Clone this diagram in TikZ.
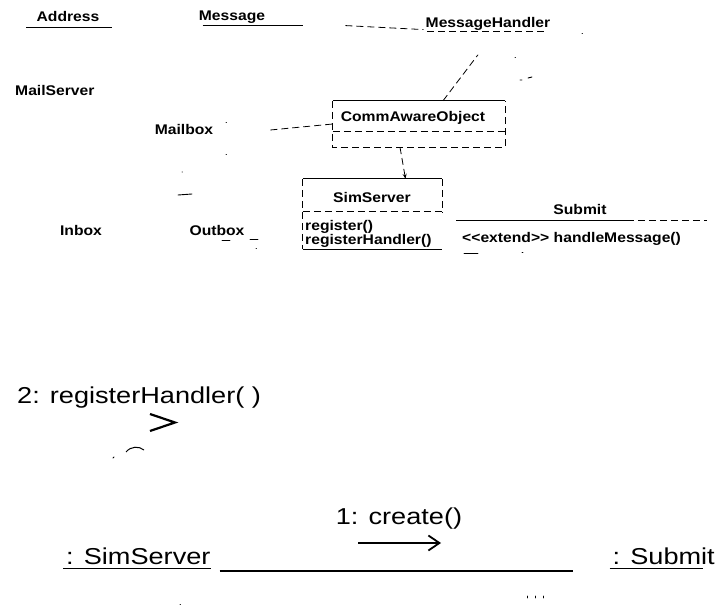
\documentclass[tikz,border=0pt]{standalone}
\usepackage{fontspec}
\usepackage{tikz}
\usetikzlibrary{arrows.meta,calc}
\newfontfamily\umlfont[FakeStretch=1.12]{Liberation Sans}
\newfontfamily\msgfont[FakeStretch=1.18]{Liberation Sans}
\tikzset{
  cls/.style={font=\umlfont\bfseries\fontsize{14}{13}\selectfont, inner sep=0pt},
  msgtxt/.style={font=\msgfont\fontsize{23}{26}\selectfont, inner sep=0pt},
  dsh/.style={line width=0.8pt, dash pattern=on 7pt off 4pt},
  uline/.style={line width=0.9pt},
  speck/.style={line width=0.9pt, line cap=round},
  link/.style={line width=1.4pt},
  msgarrow/.style={line width=1.8pt, -{Straight Barb[length=11pt,width=15pt,line width=1.8pt]}}
}
\begin{document}
\begin{tikzpicture}[x=1pt,y=-1pt]
		\useasboundingbox (0,0) rectangle (718,609);
		%% class diagram
		\node[cls] (addr) at (68,17) {Address};
		\node[cls] (msg) at (232,17) {Message};
		\node[cls] (msghandler) at (488,24) {MessageHandler};
		\node[cls, anchor=west] (mailserver) at (15,91) {MailServer};
		\node[cls] (mailbox) at (184,130) {Mailbox};
		\node[cls] (inbox) at (81,230) {Inbox};
		\node[cls] (outbox) at (217,230) {Outbox};
		\draw[uline] ($(addr.base west)+(-10,5)$) -- ($(addr.base east)+(12,5)$);
		\draw[uline] ($(msg.base west)+(4,5)$) -- ($(msg.base east)+(38,5)$);
		\draw[dsh] ($(msghandler.base west)+(-80,-2)$) -- ($(msghandler.base west)+(-2,2)$);
		\draw[dsh] ($(msghandler.base west)+(2,4)$) -- ($(msghandler.base east)+(-4,4)$);
		% CommAwareObject
		\node[minimum width=172pt, minimum height=46pt, inner sep=0pt] (caobox) at (419,124) {};
		\node[cls] (cao) at (413,118) {CommAwareObject};
		\draw[uline] (caobox.north west) -- (caobox.north east);
		\draw[dsh] (caobox.north west) -- (caobox.south west) -- (caobox.south east) -- (caobox.north east);
		\draw[dsh] ($(caobox.north west)+(0,31)$) -- ($(caobox.north east)+(0,31)$);
		% SimServer
		\node[minimum width=139pt, minimum height=70pt, inner sep=0pt] (simbox) at (372.5,214) {};
		\node[cls] (simsrv) at (372,197) {SimServer};
		\node[cls, anchor=base west] (reg) at (305,230.5) {register()};
		\node[cls, anchor=base west] (reghandler) at (305,245) {registerHandler()};
		\draw[uline] (simbox.north west) -- (simbox.north east);
		\draw[dsh] (simbox.north west) -- (simbox.south west);
		\draw[uline] (simbox.south west) -- (simbox.south east);
		\draw[dsh] (simbox.north east) -- ($(simbox.north east)+(0,34)$);
		\draw[dsh] ($(simbox.north west)+(0,33)$) -- ($(simbox.north east)+(0,33)$);
		% Submit
		\node[cls] (submit) at (580,209) {Submit};
		\node[cls, anchor=base west] (extend) at (462,243) {<<extend>> handleMessage()};
		\draw[uline] ($(submit.base west)+(-97,6)$) -- ($(submit.base east)+(20,6)$);
		\draw[dsh] ($(submit.base east)+(20,6)$) -- ($(submit.base east)+(100,6)$);
		% connectors
		\draw[dsh] ([xshift=57pt]mailbox.east) -- (caobox.west);
		\draw[dsh] ([xshift=24pt]caobox.north) -- ([xshift=-10pt,yshift=-24pt]msghandler.south);
		\draw[dsh, -{Stealth[length=5pt,width=4pt]}] ([xshift=-19pt]caobox.south) -- ([xshift=33pt]simbox.north);
		% scan specks
		\draw[speck] (582,33) -- (582.5,33);
		\draw[speck] (515,57) -- (515.5,57);
		\draw[speck] (520,80) -- (522,80) (528,78) -- (532,77);
		\draw[speck] (226,122) -- (226.5,122) (226,154) -- (226.5,154);
		\draw[speck] (182,172) -- (182.5,172) (178,195) -- (192,194);
		\draw[speck] (222,240) -- (230,240) (250,239) -- (258,239) (256,248) -- (256.5,248);
		\draw[speck] (464,253) -- (478,253) (522,252) -- (523,252);
		%% collaboration diagram
		\node[msgtxt, anchor=base west] (regmsg) at (17,404) {2: registerHandler( )};
		\draw[line width=2.2pt] (150,414) -- (175,422.5) -- (150,431);
		\draw[line width=1pt] (126,452) .. controls (131,446) and (139,446) .. (144,450);
		\draw[speck] (113,458) -- (114,457);
		\node[msgtxt, anchor=base west] (simobj) at (66,565) {: SimServer};
		\node[msgtxt, anchor=base east] (subobj) at (715,565) {: Submit};
		\draw[uline] ($(simobj.base west)+(-3,3)$) -- ($(simobj.base east)+(0,3)$);
		\draw[uline] ($(subobj.base west)+(-3,3)$) -- ($(subobj.base east)+(-12,3)$);
		\draw[link] ($(simobj.base east)+(9,6)$) -- ($(subobj.base west)+(-40,6)$);
		\node[msgtxt] (create) at (399,519) {1: create()};
		\coordinate (c1) at (358,543);
		\coordinate (c2) at (441,543);
		\draw[msgarrow] (c1) -- (c2);
		\draw[speck] (180,604) -- (180.5,604) (527,596) -- (527,598) (535,596) -- (535,598) (543,596) -- (543,598);
	\end{tikzpicture}
\end{document}
